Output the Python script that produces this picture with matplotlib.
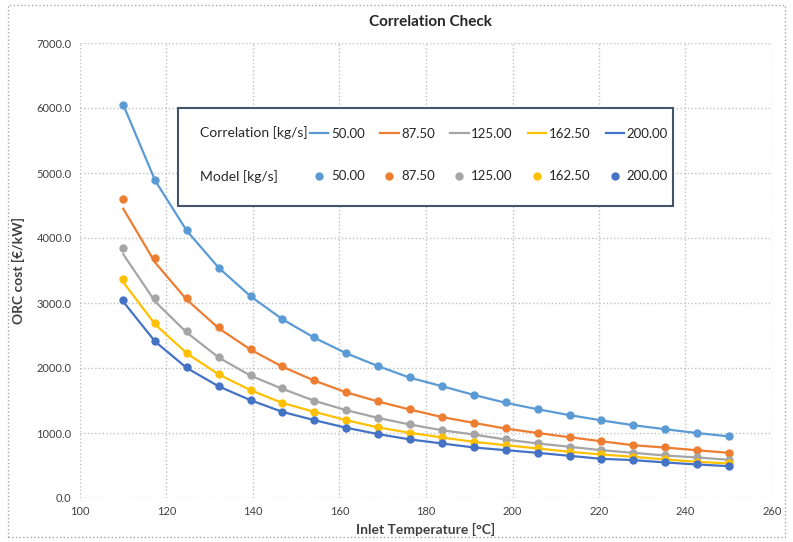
import matplotlib
matplotlib.use("Agg")
import matplotlib.pyplot as plt
from matplotlib.lines import Line2D
from matplotlib.patches import Rectangle
import numpy as np

plt.rcParams['font.family'] = ['Lato', 'DejaVu Sans']

temps = [110.0, 117.4, 124.7, 132.1, 139.5, 146.8, 154.2, 161.6, 168.9, 176.3,
         183.7, 191.1, 198.4, 205.8, 213.2, 220.5, 227.9, 235.3, 242.6, 250.0]

flow_labels = ["50.00", "87.50", "125.00", "162.50", "200.00"]
colors = ["#5B9BD5", "#ED7D31", "#A5A5A5", "#FFC000", "#4472C4"]

model_50 = [6050, 4890, 4120, 3540, 3105, 2755, 2470, 2230, 2035, 1855,
            1725, 1590, 1470, 1370, 1280, 1200, 1125, 1062, 1005, 950]
model_87 = [4600, 3690, 3080, 2630, 2290, 2030, 1815, 1630, 1490, 1365,
            1250, 1160, 1072, 1005, 938, 877, 815, 779, 738, 697]
model_125 = [3850, 3070, 2575, 2175, 1890, 1690, 1500, 1355, 1236, 1133,
             1046, 979, 903, 841, 790, 738, 697, 656, 626, 590]
model_162 = [3365, 2690, 2236, 1908, 1662, 1466, 1328, 1200, 1087, 1005,
             933, 866, 815, 764, 713, 672, 636, 595, 559, 533]
model_200 = [3046, 2420, 2010, 1723, 1508, 1328, 1200, 1082, 985, 903,
             841, 779, 738, 697, 651, 605, 585, 549, 518, 492]

corr_50 = [6050, 4880, 4110, 3540, 3100, 2750, 2465, 2225, 2030, 1850,
           1720, 1585, 1465, 1365, 1275, 1195, 1120, 1058, 1000, 948]
corr_87 = [4450, 3620, 3050, 2610, 2280, 2020, 1805, 1625, 1485, 1360,
           1245, 1155, 1068, 1000, 935, 873, 812, 776, 735, 695]
corr_125 = [3750, 3020, 2545, 2160, 1880, 1680, 1495, 1350, 1232, 1130,
            1043, 976, 900, 839, 788, 736, 695, 654, 624, 588]
corr_162 = [3320, 2670, 2225, 1900, 1657, 1462, 1325, 1197, 1085, 1003,
            931, 864, 813, 762, 711, 670, 634, 593, 557, 531]
corr_200 = [3020, 2405, 2000, 1716, 1503, 1325, 1197, 1080, 983, 901,
            839, 777, 736, 695, 649, 603, 583, 547, 516, 490]

model_series = [model_50, model_87, model_125, model_162, model_200]
corr_series = [corr_50, corr_87, corr_125, corr_162, corr_200]

fig = plt.figure(figsize=(7.93, 5.42), dpi=100)
ax = fig.add_axes([80/793, 1-498/542, (772-80)/793, (498-43)/542])

for c, m, col in zip(corr_series, model_series, colors):
    ax.plot(temps, c, color=col, lw=1.6, zorder=3)
    ax.plot(temps, m, ls='none', marker='o', ms=5, color=col, zorder=4)

ax.set_xlim(100, 260)
ax.set_ylim(0, 7000)
ax.set_xticks(np.arange(100, 261, 20))
ax.set_yticks(np.arange(0, 7001, 1000))
ax.set_yticklabels([f"{v:.1f}" for v in np.arange(0, 7001, 1000)])
ax.grid(True, ls=':', color='#BFBFBF', lw=1.0)
ax.set_axisbelow(True)
for s in ax.spines.values():
    s.set_visible(False)
ax.tick_params(length=0, labelsize=8, colors='#404040', pad=6)

ax.set_xlabel("Inlet Temperature [°C]", fontsize=10, fontweight='bold', color='#404040', labelpad=4)
ax.set_ylabel("ORC cost [€/kW]", fontsize=10, fontweight='bold', color='#404040', labelpad=8)
fig.text(430/793, 1-22/542, "Correlation Check", ha='center', va='center',
         fontsize=11, fontweight='bold', color='#262626')

# outer border
fig.patches.append(Rectangle((8/793, 5/542), 777/793, 532/542, transform=fig.transFigure,
                             fill=False, ls=':', ec='#A6A6A6', lw=1.0))

# legend box
fig.patches.append(Rectangle((178/793, 1-206/542), 495/793, 98/542, transform=fig.transFigure,
                             fill=True, fc='white', ec='#44546A', lw=1.5, zorder=5))
fig.text(200/793, 1-133/542, "Correlation [kg/s]", ha='left', va='center', fontsize=10, color='#262626', zorder=6)
fig.text(200/793, 1-177/542, "Model [kg/s]", ha='left', va='center', fontsize=10, color='#262626', zorder=6)

handles = []
labels = []
for col, lab in zip(colors, flow_labels):
    handles.append(Line2D([], [], color=col, lw=1.6))
    labels.append(lab)
    handles.append(Line2D([], [], color=col, ls='none', marker='o', ms=5))
    labels.append(lab)
leg = fig.legend(handles, labels, ncol=5, loc='upper left',
                 bbox_to_anchor=(310/793, 1-128/542), frameon=False,
                 fontsize=9.5, handlelength=1.4, handletextpad=0.2,
                 columnspacing=1.15, labelspacing=2.3, borderaxespad=0, borderpad=0)
leg.set_zorder(7)
for t in leg.get_texts():
    t.set_color('#262626')

fig.savefig("out.png", dpi=100)
